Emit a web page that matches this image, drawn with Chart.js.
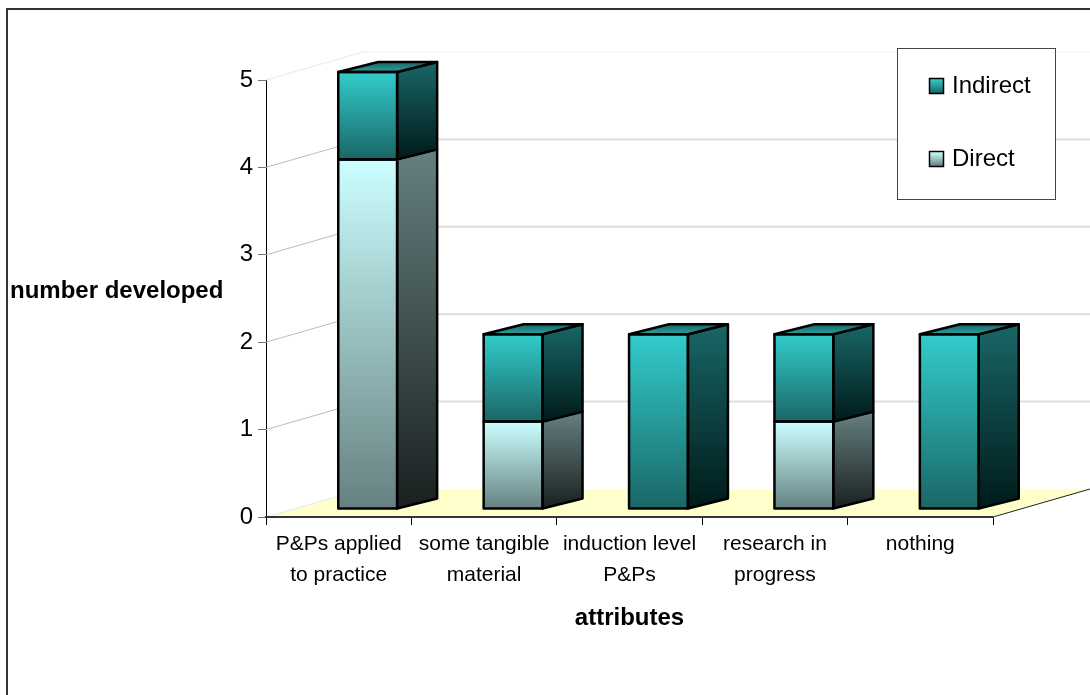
<!DOCTYPE html>
<html>
<head>
<meta charset="utf-8">
<title>attributes</title>
<style>
  html, body { margin: 0; padding: 0; background: #fff; overflow: hidden; }
  #wrap { position: absolute; left: 0; top: 0; width: 1090px; height: 695px; }
</style>
<script src="https://cdn.jsdelivr.net/npm/chart.js@4/dist/chart.umd.min.js"></script>
</head>
<body>
<div id="wrap"><canvas id="chart" width="1090" height="695"></canvas></div>
<script>
const categories = [
  ['P&Ps applied', 'to practice'],
  ['some tangible', 'material'],
  ['induction level', 'P&Ps'],
  ['research in', 'progress'],
  'nothing'
];
const directValues = [4, 1, 0, 1, 0];
const indirectValues = [1, 1, 2, 1, 2];
const seriesNames = ['Direct', 'Indirect'];
const yTicks = [0, 1, 2, 3, 4, 5];

const FONT = '"Liberation Sans", Arial, sans-serif';

// 3D look: how far the back wall and the bars sit from the front axes
const WALL_DX = 97, WALL_DY = -28;
const BAR_DX = 29, BAR_DY = -8;
const DEPTH_DX = 40, DEPTH_DY = -10;

// colours per series: [front top, front bottom, side top, side bottom]
const shades = [
  ['#ccffff', '#668080', '#668080', '#1a2020'],
  ['#33cccc', '#1a6666', '#1a6666', '#001a1a']
];

function segment(scale, datasetIndex, i) {
  const start = datasetIndex === 0 ? 0 : directValues[i];
  const end = start + (datasetIndex === 0 ? directValues[i] : indirectValues[i]);
  return { top: scale.getPixelForValue(end), bottom: scale.getPixelForValue(start) };
}

function frontGradient(c) {
  if (c.type !== 'data') return shades[c.datasetIndex][0];
  const seg = segment(c.chart.scales.y, c.datasetIndex, c.dataIndex);
  // the scale has no pixels yet on the very first pass
  if (!Number.isFinite(seg.top) || !Number.isFinite(seg.bottom)) return shades[c.datasetIndex][0];
  if (seg.bottom - seg.top < 1) return 'rgba(0,0,0,0)';
  const g = c.chart.ctx.createLinearGradient(0, seg.top, 0, seg.bottom);
  g.addColorStop(0, shades[c.datasetIndex][0]);
  g.addColorStop(1, shades[c.datasetIndex][1]);
  return g;
}

function poly(ctx, pts) {
  ctx.beginPath();
  pts.forEach((p, i) => i ? ctx.lineTo(p[0], p[1]) : ctx.moveTo(p[0], p[1]));
  ctx.closePath();
}

// Frame, floor, back wall gridlines and the horizontal y title
const backdrop = {
  id: 'backdrop',
  beforeDatasetsDraw(chart) {
    const ctx = chart.ctx, y = chart.scales.y, area = chart.chartArea;
    const y0 = y.getPixelForValue(0);
    ctx.save();

    // only the top and left of the outer frame are in the picture
    ctx.strokeStyle = '#333';
    ctx.lineWidth = 2;
    ctx.beginPath();
    ctx.moveTo(7, 695);
    ctx.lineTo(7, 9);
    ctx.lineTo(1090, 9);
    ctx.stroke();

    poly(ctx, [[area.left, y0], [area.right, y0], [area.right + WALL_DX, y0 + WALL_DY], [area.left + WALL_DX, y0 + WALL_DY]]);
    ctx.fillStyle = '#ffffcc';
    ctx.fill();

    yTicks.forEach(t => {
      const py = y.getPixelForValue(t);
      const faint = t === 5 || t === 0;
      ctx.beginPath();
      ctx.moveTo(area.left, py);
      ctx.lineTo(area.left + WALL_DX, py + WALL_DY);
      ctx.strokeStyle = faint ? '#e8e8e8' : '#bbbbbb';
      ctx.lineWidth = 1;
      ctx.stroke();
      if (t > 0) {
        ctx.beginPath();
        ctx.moveTo(area.left + WALL_DX, py + WALL_DY);
        ctx.lineTo(area.right + WALL_DX, py + WALL_DY);
        ctx.strokeStyle = t === 5 ? '#f2f2f2' : '#dddddd';
        ctx.lineWidth = t === 5 ? 1 : 2;
        ctx.stroke();
      }
    });

    // right edge of the floor
    ctx.beginPath();
    ctx.moveTo(area.right, y0);
    ctx.lineTo(area.right + WALL_DX, y0 + WALL_DY);
    ctx.strokeStyle = '#222';
    ctx.lineWidth = 1;
    ctx.stroke();

    // front edge of the floor, heavier than the axis line
    ctx.beginPath();
    ctx.moveTo(area.left, y0);
    ctx.lineTo(area.right, y0);
    ctx.strokeStyle = '#333';
    ctx.lineWidth = 2;
    ctx.stroke();

    ctx.fillStyle = '#000';
    ctx.font = 'bold 24px ' + FONT;
    ctx.textAlign = 'left';
    ctx.textBaseline = 'middle';
    ctx.fillText('number developed', 10, 291);
    ctx.restore();

    // front faces are the library's bars, moved back onto the floor
    ctx.save();
    ctx.translate(BAR_DX, BAR_DY);
  },
  afterDatasetsDraw(chart) {
    const ctx = chart.ctx;
    ctx.restore();
    ctx.save();
    ctx.strokeStyle = '#000';
    ctx.lineWidth = 2.5;
    ctx.lineJoin = 'round';
    chart.data.datasets.forEach((ds, d) => {
      chart.getDatasetMeta(d).data.forEach((bar, i) => {
        if (!ds.data[i]) return;
        const left = bar.x - bar.width / 2 + BAR_DX;
        const right = left + bar.width;
        const top = bar.y + BAR_DY;
        const bottom = bar.base + BAR_DY;

        const side = ctx.createLinearGradient(0, top + DEPTH_DY, 0, bottom);
        side.addColorStop(0, shades[d][2]);
        side.addColorStop(1, shades[d][3]);
        poly(ctx, [[right, top], [right + DEPTH_DX, top + DEPTH_DY], [right + DEPTH_DX, bottom + DEPTH_DY], [right, bottom]]);
        ctx.fillStyle = side;
        ctx.fill();
        ctx.stroke();

        // only the upper series shows a lid
        if (d === 1) {
          const lid = ctx.createLinearGradient(0, top + DEPTH_DY, 0, top);
          lid.addColorStop(0, '#1a6666');
          lid.addColorStop(1, '#2b9f9f');
          poly(ctx, [[left, top], [left + DEPTH_DX, top + DEPTH_DY], [right + DEPTH_DX, top + DEPTH_DY], [right, top]]);
          ctx.fillStyle = lid;
          ctx.fill();
          ctx.stroke();
        }

        ctx.strokeRect(left, top, bar.width, bottom - top);
      });
    });
    ctx.restore();
  },
  afterDraw(chart) {
    // legend box, Indirect on top
    const ctx = chart.ctx;
    ctx.save();
    ctx.fillStyle = '#fff';
    ctx.fillRect(897.5, 48.5, 158, 151);
    ctx.strokeStyle = '#444';
    ctx.lineWidth = 1;
    ctx.strokeRect(897.5, 48.5, 158, 151);
    const rows = [[1, 86], [0, 159]];
    ctx.font = '24px ' + FONT;
    ctx.textAlign = 'left';
    ctx.textBaseline = 'middle';
    rows.forEach(([d, py]) => {
      const g = ctx.createLinearGradient(0, py - 7, 0, py + 7);
      g.addColorStop(0, shades[d][0]);
      g.addColorStop(1, shades[d][1]);
      ctx.fillStyle = g;
      ctx.fillRect(929.5, py - 7.5, 14, 15);
      ctx.strokeStyle = '#000';
      ctx.lineWidth = 1.5;
      ctx.strokeRect(929.5, py - 7.5, 14, 15);
      ctx.fillStyle = '#000';
      ctx.fillText(seriesNames[d], 952, py);
    });
    ctx.restore();
  }
};

new Chart(document.getElementById('chart'), {
  type: 'bar',
  data: {
    labels: categories,
    datasets: [
      {
        label: seriesNames[0],
        data: directValues,
        backgroundColor: frontGradient,
        borderWidth: 0
      },
      {
        label: seriesNames[1],
        data: indirectValues,
        backgroundColor: frontGradient,
        borderWidth: 0
      }
    ]
  },
  options: {
    responsive: false,
    animation: false,
    layout: { padding: { left: 0, top: 80, right: 97, bottom: 0 } },
    datasets: { bar: { categoryPercentage: 1, barPercentage: 0.405 } },
    plugins: { legend: { display: false }, tooltip: { enabled: false } },
    scales: {
      x: {
        stacked: true,
        afterFit(scale) { scale.height = 178; },
        grid: { drawOnChartArea: false, color: '#000', tickLength: 8, lineWidth: 1 },
        border: { color: '#333', width: 2 },
        ticks: {
          color: '#000',
          padding: 4,
          maxRotation: 0,
          autoSkip: false,
          font: { family: FONT, size: 21, lineHeight: 1.48 }
        },
        title: {
          display: true,
          text: 'attributes',
          color: '#000',
          font: { family: FONT, size: 24, weight: 'bold' },
          padding: { top: 0, bottom: 62 }
        }
      },
      y: {
        stacked: true,
        min: 0,
        max: 5,
        afterFit(scale) { scale.width = 266; },
        afterBuildTicks(scale) { scale.ticks = yTicks.map(v => ({ value: v })); },
        grid: { drawOnChartArea: false, color: '#777', tickLength: 8, lineWidth: 1 },
        border: { color: '#000', width: 1 },
        ticks: {
          color: '#000',
          padding: 5,
          font: { family: FONT, size: 24 }
        }
      }
    }
  },
  plugins: [backdrop]
});
</script>
</body>
</html>
